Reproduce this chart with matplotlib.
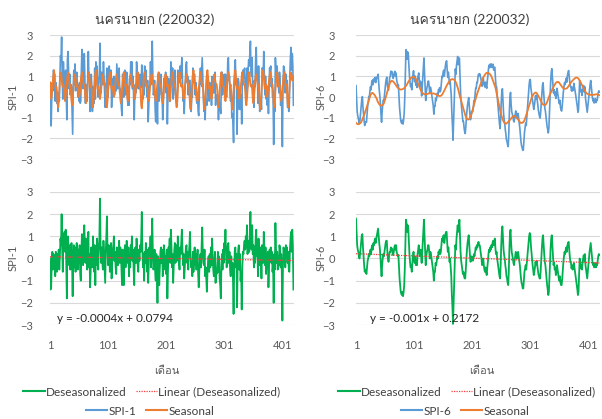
import numpy as np
import matplotlib
matplotlib.use("Agg")
import matplotlib.pyplot as plt
from matplotlib import font_manager
from matplotlib.lines import Line2D
from fontTools.ttLib import TTFont


def find_thai_font():
    # first installed font that has Thai glyphs
    for f in font_manager.fontManager.ttflist:
        try:
            cmap = TTFont(f.fname, fontNumber=0, lazy=True).getBestCmap()
        except Exception:
            continue
        if cmap and 0x0E19 in cmap and 0x0E14 in cmap:
            return f.name
    return "DejaVu Sans"


thai = find_thai_font()
plt.rcParams["font.family"] = ["Lato", thai, "DejaVu Sans"]

title_text = "นครนายก (220032)"
xlabel_text = "เดือน"
xticks = [1, 101, 201, 301, 401]
yticks = [-3, -2, -1, 0, 1, 2, 3]

# SPI-1 deseasonalized (green), one row per year
desea1_rows = [
    [0.0, -1.4, -1.3, -0.2, 0.3, -0.5, 0.2, -0.3, 0.1, -0.8, 0.3, -0.4],
    [-0.6, 0.2, -0.2, 0.4, -0.5, 0.1, 0.9, 0.6, 2.0, 0.4, -0.6, 1.1],
    [0.5, 1.2, 0.3, 1.3, -0.4, -1.8, 0.8, 1.0, 0.2, -0.3, 0.6, -0.5],
    [0.3, 0.7, -0.2, -1.7, 0.2, 0.6, -0.4, 0.5, -0.6, 0.3, 0.7, 0.1],
    [-0.5, 0.4, -0.2, 0.6, -0.7, -1.0, 0.3, 1.1, 0.4, -0.3, 0.8, 1.5],
    [0.6, -0.2, 0.9, 0.3, -0.5, 0.4, 1.2, -0.4, 0.2, -1.3, -0.6, 0.5],
    [0.2, -0.4, 1.0, 0.3, -0.6, 0.6, -1.2, 0.4, -0.3, 0.9, 0.2, -0.5],
    [0.4, 0.9, 2.7, 0.6, -0.2, 0.5, -0.1, -0.5, 0.8, 0.2, -0.4, -1.1],
    [0.3, 1.0, 1.9, 0.4, -0.3, 0.6, 0.5, -0.6, 0.2, 0.7, -0.9, -0.2],
    [0.4, 0.6, 1.0, -0.1, 0.3, -0.4, -0.7, 0.5, 0.1, -0.3, 0.2, 0.8],
    [-0.2, 0.5, 0.3, -0.5, -1.2, 0.4, -0.3, -1.2, 0.2, 0.6, -0.4, 0.1],
    [0.8, 0.3, -0.2, 0.5, -0.8, 0.2, -0.4, 0.6, 0.3, 1.0, -0.1, 0.4],
    [-0.5, -1.2, 0.3, 0.5, -0.2, 0.9, 0.2, -0.3, -0.6, 0.4, -0.1, 0.6],
    [0.3, 0.9, 2.1, 0.4, -0.4, 0.2, -1.0, 0.3, -0.2, 0.7, 0.1, -0.6],
    [0.4, -1.1, -0.3, 0.5, 0.2, 1.0, -0.4, 0.6, 1.8, 0.3, -0.5, -0.3],
    [0.4, -0.6, -1.0, 0.2, -0.5, -2.0, 0.1, -0.3, -1.2, -0.4, 0.3, 0.5],
    [-0.2, 0.4, -0.8, -0.3, 0.6, 0.2, -0.5, 0.1, -0.7, 0.4, -1.8, -0.6],
    [0.5, 0.3, 0.9, -0.2, 1.3, 0.6, -0.4, 0.2, -1.1, -0.3, 0.4, 0.7],
    [-0.2, 0.3, 0.6, -0.1, 1.0, 0.4, -0.2, -0.5, 0.5, 0.2, 0.8, 1.3],
    [0.4, -0.3, 0.2, -0.9, -0.4, 0.1, 0.5, 0.6, -0.2, 0.3, -0.5, 0.2],
    [0.6, 1.2, 0.1, -0.4, -0.2, -0.8, 0.3, -0.6, 0.1, 0.5, -0.3, 0.2],
    [-0.5, -0.2, 0.4, -0.7, -1.3, -0.6, -0.1, 0.2, -0.4, 0.6, 1.4, 0.3],
    [-0.2, -0.3, 0.4, -0.8, -0.4, -0.9, -1.5, -0.7, -0.2, 0.1, -0.6, 0.2],
    [-0.4, 0.5, -0.3, 0.9, 0.2, -0.5, -0.8, -0.2, 0.3, -1.1, -0.5, -0.7],
    [-0.3, 0.3, -0.6, 0.1, -0.9, -1.2, -1.8, -0.4, 0.2, -0.5, 0.4, -0.2],
    [0.7, 0.4, 1.3, 0.2, -0.4, -0.3, 0.6, 0.7, -0.2, 0.3, -0.5, -0.8],
    [0.1, -0.6, -0.2, -1.0, -2.5, -0.5, 0.3, 0.5, -0.4, 0.2, -2.2, -0.3],
    [0.4, 0.6, -0.5, 0.2, -1.0, -0.6, -2.3, -0.4, 0.3, 0.2, 0.6, 0.8],
    [0.4, 1.0, 0.5, 1.5, 0.2, 0.6, 0.8, 0.3, 1.2, 2.1, 0.7, 0.4],
    [1.5, 0.2, 0.6, -0.4, 0.5, -0.2, 0.9, 1.3, 0.1, 0.4, -0.8, 0.9],
    [0.2, -0.3, 0.5, 0.1, -0.9, 0.6, 0.3, -0.2, 1.2, 0.4, -0.3, 0.5],
    [-0.7, 0.2, -0.4, 0.3, -1.3, -0.5, 0.4, 0.1, 0.5, -0.2, 0.3, -0.6],
    [-0.3, -2.0, 0.2, -0.5, 1.6, 0.4, -0.2, 0.3, -0.5, 0.1, -0.3, 0.6],
    [0.4, -0.4, 0.2, -0.6, -2.8, -0.3, 0.5, 0.2, 0.3, -0.4, 0.6, 0.1],
    [0.5, -0.2, 0.3, -0.5, -0.6, 0.4, 0.9, 1.2, 0.3, 1.3, 0.6, -1.4],
]

# SPI-1 seasonal (orange)
seas1_rows = [
    [0.7, 0.1, -0.1, 0.1, 0.4, 0.8, 1.1, 1.3, 1.0, 0.6, 0.4, 0.5],
    [0.3, -0.3, -0.5, -0.2, 0.3, 0.8, 1.1, 1.2, 0.9, 0.6, 0.5, 0.6],
    [0.4, 0.0, -0.2, 0.0, 0.4, 0.7, 1.0, 1.2, 1.0, 0.7, 0.5, 0.6],
    [0.3, -0.2, -0.4, -0.1, 0.3, 0.7, 1.0, 1.1, 0.9, 0.6, 0.5, 0.6],
    [0.5, 0.2, 0.0, 0.1, 0.4, 0.8, 1.0, 1.2, 1.0, 0.7, 0.6, 0.6],
    [0.4, -0.1, -0.3, -0.1, 0.3, 0.7, 1.0, 1.2, 0.9, 0.6, 0.5, 0.6],
    [0.3, -0.3, -0.5, -0.2, 0.3, 0.8, 1.1, 1.3, 1.0, 0.6, 0.4, 0.5],
    [0.5, 0.1, -0.1, 0.1, 0.4, 0.7, 1.0, 1.1, 0.9, 0.7, 0.6, 0.6],
    [0.3, -0.3, -0.5, -0.2, 0.3, 0.7, 1.0, 1.2, 1.0, 0.6, 0.4, 0.5],
    [0.5, 0.2, 0.0, 0.2, 0.5, 0.8, 1.0, 1.1, 0.9, 0.7, 0.6, 0.6],
    [0.4, -0.1, -0.3, -0.1, 0.3, 0.7, 1.0, 1.2, 1.0, 0.7, 0.5, 0.6],
    [0.4, 0.0, -0.2, 0.0, 0.4, 0.7, 1.0, 1.1, 0.9, 0.7, 0.5, 0.6],
    [0.5, 0.1, -0.1, 0.1, 0.4, 0.8, 1.1, 1.2, 1.0, 0.6, 0.5, 0.5],
    [0.2, -0.4, -0.55, -0.2, 0.3, 0.8, 1.1, 1.2, 0.9, 0.6, 0.5, 0.6],
    [0.4, -0.1, -0.2, 0.0, 0.4, 0.7, 1.0, 1.1, 0.9, 0.7, 0.6, 0.6],
    [0.4, 0.0, -0.2, 0.0, 0.4, 0.7, 1.0, 1.2, 1.0, 0.7, 0.5, 0.6],
    [0.3, -0.2, -0.3, -0.1, 0.3, 0.7, 1.0, 1.1, 0.9, 0.6, 0.5, 0.6],
    [0.4, 0.0, -0.2, 0.0, 0.4, 0.8, 1.1, 1.2, 1.0, 0.7, 0.5, 0.6],
    [0.3, -0.3, -0.5, -0.2, 0.3, 0.7, 1.0, 1.2, 1.0, 0.7, 0.5, 0.6],
    [0.5, 0.1, -0.1, 0.1, 0.4, 0.7, 1.0, 1.1, 0.9, 0.7, 0.6, 0.6],
    [0.2, -0.4, -0.6, -0.3, 0.3, 0.8, 1.1, 1.3, 1.0, 0.6, 0.4, 0.5],
    [0.4, -0.1, -0.2, 0.0, 0.4, 0.7, 1.0, 1.2, 1.0, 0.7, 0.5, 0.6],
    [0.2, -0.4, -0.6, -0.3, 0.3, 0.8, 1.1, 1.3, 1.0, 0.6, 0.4, 0.5],
    [0.5, 0.1, -0.1, 0.1, 0.4, 0.7, 1.0, 1.1, 0.9, 0.7, 0.6, 0.6],
    [0.3, -0.3, -0.5, -0.2, 0.3, 0.7, 1.0, 1.2, 1.0, 0.6, 0.5, 0.5],
    [0.4, 0.0, -0.2, 0.0, 0.4, 0.8, 1.1, 1.2, 1.0, 0.7, 0.5, 0.6],
    [0.2, -0.4, -0.6, -0.3, 0.3, 0.8, 1.1, 1.3, 1.0, 0.6, 0.4, 0.5],
    [0.5, 0.1, -0.1, 0.1, 0.4, 0.7, 1.0, 1.2, 1.0, 0.7, 0.6, 0.6],
    [0.3, -0.2, -0.4, -0.1, 0.3, 0.7, 1.0, 1.2, 0.9, 0.6, 0.5, 0.6],
    [0.4, -0.1, -0.3, -0.1, 0.3, 0.7, 1.0, 1.1, 0.9, 0.7, 0.5, 0.6],
    [0.2, -0.4, -0.6, -0.3, 0.3, 0.8, 1.1, 1.3, 1.0, 0.6, 0.4, 0.5],
    [0.6, 0.2, 0.0, 0.2, 0.5, 0.8, 1.0, 1.2, 1.0, 0.7, 0.6, 0.6],
    [0.3, -0.3, -0.5, -0.2, 0.3, 0.7, 1.0, 1.2, 1.0, 0.7, 0.5, 0.6],
    [0.4, 0.0, -0.2, 0.0, 0.4, 0.7, 1.0, 1.2, 0.9, 0.6, 0.5, 0.6],
    [0.3, -0.3, -0.5, -0.2, 0.3, 0.8, 1.1, 1.2, 1.0, 0.8, 0.9, 1.0],
]

# SPI-6 deseasonalized (green)
desea6_rows = [
    [1.8, 1.2, 0.6, 0.4, 0.3, 0.1, 0.0, 0.2, 0.5, 0.8, 1.05, 1.1],
    [0.5, 0.1, -0.3, -0.6, -0.5, -0.6, -0.7, -0.4, -0.1, 0.0, 0.2, 0.1],
    [0.3, 0.4, 0.2, 0.5, 0.6, 0.4, 0.7, 0.6, 0.8, 0.9, 0.7, 0.9],
    [1.05, 1.2, 1.35, 1.0, 0.7, 0.45, 0.1, -0.4, -0.8, -0.3, 0.0, 0.2],
    [0.1, 0.3, 0.5, 0.7, 0.8, 0.8, 0.3, 0.0, -0.15, 0.1, 0.3, 0.3],
    [0.5, 0.45, 0.45, 0.2, 0.15, 0.3, 0.5, 0.6, 0.4, 0.6, 0.3, 0.2],
    [0.1, 0.15, -0.4, -0.9, -1.2, -1.5, -1.6, -1.65, -1.5, -1.7, -1.5, -1.2],
    [-0.45, 0.6, 1.75, 1.6, 1.2, 1.5, 1.35, 0.8, 0.2, -0.15, -0.4, -0.3],
    [-0.6, -0.2, 0.1, 0.3, 0.0, -0.2, 0.1, -0.3, -0.1, -0.3, 0.2, 0.4],
    [0.6, 0.3, 0.1, 0.4, 0.2, -0.2, 0.3, 0.8, 1.3, 1.75, 1.0, 0.4],
    [-0.3, 0.1, 0.3, 0.4, 0.6, 0.6, 0.3, 0.0, 0.3, 0.2, 0.0, -0.2],
    [-0.4, -0.6, -1.0, -0.6, -0.6, -0.2, -0.3, -0.1, 0.1, 0.0, 0.3, 0.2],
    [0.4, 0.2, 0.3, 0.6, 0.9, 0.8, 1.0, 1.05, 0.7, 0.9, 1.1, 1.2],
    [1.2, 0.7, 0.3, 0.5, 0.2, -0.15, 0.0, -0.4, -0.8, -1.65, -2.2, -2.95],
    [-2.0, -0.9, -0.2, 0.6, 0.4, 0.9, 1.2, 1.5, 1.2, 1.5, 1.75, 1.0],
    [0.3, -0.1, -0.3, -0.5, -0.7, -0.6, -0.8, -0.9, -0.9, -0.5, 0.0, 0.4],
    [0.7, 0.9, 1.05, 0.6, 0.2, -0.15, -0.1, 0.1, 0.0, -0.1, 0.0, 0.2],
    [0.1, 0.3, 0.5, 0.4, 0.6, 0.5, 0.7, 0.75, 0.6, 0.6, 0.4, 0.2],
    [0.0, -0.3, -0.2, 0.0, -0.3, -0.5, -0.6, -0.4, -0.6, -0.75, -0.4, -0.15],
    [0.2, 0.4, 0.3, 0.5, 0.4, 0.6, 0.5, 0.7, 0.8, 0.6, 0.8, 0.9],
    [0.45, 0.2, 0.3, 0.0, -0.2, -0.4, -0.6, -0.8, -0.9, -0.3, 0.6, 1.2],
    [1.45, 0.9, 0.4, 0.15, 0.0, -0.3, -0.5, -0.8, -0.9, -1.1, -1.2, -0.6],
    [0.4, 1.1, 1.3, 0.7, 0.3, 0.15, 0.0, -0.2, -0.3, -0.1, 0.1, 0.3],
    [0.2, 0.0, 0.2, 0.3, 0.1, -0.1, -0.3, -0.6, -0.9, -1.1, -1.2, -1.35],
    [-1.35, -1.0, -0.6, -0.45, -0.3, -0.5, -0.2, 0.1, 0.4, 0.7, 1.0, 1.15],
    [1.1, 0.6, 0.3, 0.0, -0.3, -0.5, -0.75, -0.6, -0.4, -0.15, -0.3, -0.1],
    [-0.3, -0.5, -0.7, -0.8, -0.9, -0.9, -0.5, 0.0, 0.5, 0.9, 1.05, 0.6],
    [0.2, -0.15, -0.3, -0.6, -0.9, -1.2, -1.4, -1.65, -1.5, -0.9, -0.2, 0.5],
    [0.9, 1.05, 0.6, 0.2, -0.3, -0.2, -0.5, -0.4, -0.75, -0.6, -0.3, -0.5],
    [-0.7, -0.9, -1.0, -0.8, -1.1, -1.2, -1.2, -0.9, -0.5, -0.15, 0.1, 0.3],
    [0.2, 0.4, 0.5, 0.3, 0.6, 0.7, 0.75, 0.4, 0.1, -0.15, -0.2, -0.45],
    [-0.3, -0.5, -0.45, -0.2, -0.4, -0.6, -0.8, -1.0, -1.2, -1.4, -1.65, -1.5],
    [-0.8, 0.0, -0.2, -0.45, -0.3, -0.5, -0.2, 0.0, 0.15, -0.1, 0.2, -0.3],
    [-0.5, -0.7, -0.9, -0.6, -0.3, 0.0, 0.3, 0.5, 0.7, 0.4, 0.1, -0.15],
    [-0.3, -0.2, -0.4, -0.3, -0.2, -0.4, -0.3, -0.3, -0.1, 0.1, 0.2, 0.15],
]

# SPI-6 seasonal (orange, smooth)
seas6_rows = [
    [-1.25, -1.28, -1.30, -1.31, -1.32, -1.31, -1.29, -1.27, -1.25, -1.21, -1.15, -1.08],
    [-1.00, -0.95, -0.87, -0.78, -0.70, -0.62, -0.53, -0.45, -0.36, -0.27, -0.18, -0.09],
    [0.00, 0.10, 0.15, 0.19, 0.20, 0.19, 0.16, 0.13, 0.10, 0.05, 0.00, -0.05],
    [-0.10, -0.20, -0.25, -0.30, -0.35, -0.38, -0.41, -0.42, -0.42, -0.40, -0.38, -0.35],
    [-0.30, -0.22, -0.13, -0.04, 0.06, 0.16, 0.27, 0.38, 0.48, 0.57, 0.65, 0.71],
    [0.75, 0.78, 0.78, 0.77, 0.75, 0.72, 0.68, 0.64, 0.60, 0.56, 0.52, 0.48],
    [0.45, 0.42, 0.40, 0.38, 0.37, 0.36, 0.36, 0.37, 0.38, 0.39, 0.41, 0.43],
    [0.46, 0.50, 0.54, 0.58, 0.63, 0.68, 0.73, 0.78, 0.82, 0.86, 0.90, 0.93],
    [0.95, 0.96, 0.97, 0.97, 0.96, 0.94, 0.91, 0.87, 0.82, 0.76, 0.70, 0.63],
    [0.56, 0.49, 0.42, 0.36, 0.30, 0.25, 0.21, 0.18, 0.16, 0.14, 0.13, 0.13],
    [0.13, 0.14, 0.14, 0.15, 0.16, 0.17, 0.17, 0.18, 0.18, 0.18, 0.17, 0.17],
    [0.17, 0.17, 0.17, 0.16, 0.15, 0.14, 0.12, 0.10, 0.08, 0.07, 0.06, 0.05],
    [0.05, 0.05, 0.06, 0.08, 0.11, 0.15, 0.20, 0.25, 0.31, 0.37, 0.43, 0.49],
    [0.55, 0.60, 0.65, 0.70, 0.74, 0.78, 0.81, 0.83, 0.85, 0.86, 0.86, 0.86],
    [0.85, 0.83, 0.80, 0.76, 0.70, 0.63, 0.55, 0.46, 0.36, 0.25, 0.13, 0.01],
    [-0.08, -0.18, -0.28, -0.38, -0.48, -0.58, -0.68, -0.78, -0.87, -0.95, -1.01, -1.06],
    [-1.09, -1.09, -1.08, -1.05, -1.01, -0.95, -0.88, -0.80, -0.70, -0.60, -0.49, -0.38],
    [-0.28, -0.18, -0.08, 0.02, 0.11, 0.20, 0.28, 0.36, 0.44, 0.52, 0.60, 0.68],
    [0.75, 0.82, 0.88, 0.94, 0.99, 1.04, 1.08, 1.12, 1.15, 1.17, 1.17, 1.17],
    [1.16, 1.14, 1.12, 1.09, 1.05, 1.00, 0.93, 0.86, 0.78, 0.70, 0.62, 0.54],
    [0.46, 0.33, 0.20, 0.06, -0.08, -0.22, -0.36, -0.50, -0.63, -0.75, -0.86, -0.96],
    [-1.05, -1.12, -1.18, -1.23, -1.27, -1.29, -1.29, -1.28, -1.26, -1.23, -1.20, -1.17],
    [-1.14, -1.11, -1.08, -1.04, -1.00, -0.97, -0.94, -0.92, -0.91, -0.92, -0.94, -0.97],
    [-1.00, -1.03, -1.06, -1.09, -1.13, -1.17, -1.21, -1.24, -1.26, -1.26, -1.25, -1.23],
    [-1.22, -1.18, -1.12, -1.05, -0.97, -0.88, -0.79, -0.70, -0.60, -0.50, -0.42, -0.33],
    [-0.25, -0.15, -0.07, 0.00, 0.06, 0.11, 0.15, 0.18, 0.20, 0.22, 0.21, 0.19],
    [0.15, 0.10, 0.05, 0.00, -0.06, -0.12, -0.18, -0.24, -0.29, -0.33, -0.36, -0.38],
    [-0.39, -0.39, -0.38, -0.35, -0.30, -0.24, -0.17, -0.09, -0.01, 0.07, 0.14, 0.20],
    [0.26, 0.32, 0.38, 0.44, 0.50, 0.55, 0.60, 0.64, 0.68, 0.71, 0.72, 0.73],
    [0.73, 0.71, 0.68, 0.64, 0.60, 0.56, 0.52, 0.48, 0.45, 0.42, 0.41, 0.40],
    [0.40, 0.40, 0.41, 0.42, 0.45, 0.49, 0.53, 0.58, 0.62, 0.66, 0.70, 0.74],
    [0.77, 0.80, 0.83, 0.86, 0.89, 0.91, 0.93, 0.94, 0.94, 0.93, 0.91, 0.88],
    [0.84, 0.80, 0.75, 0.70, 0.64, 0.58, 0.52, 0.46, 0.40, 0.34, 0.29, 0.25],
    [0.21, 0.18, 0.16, 0.14, 0.13, 0.12, 0.11, 0.11, 0.10, 0.10, 0.10, 0.10],
    [0.10, 0.11, 0.11, 0.12, 0.12, 0.13, 0.13, 0.13, 0.12, 0.11, 0.10, 0.09],
]

# trendline coefficients shown on the chart
trend1 = (-0.0004, 0.0794)
trend6 = (-0.001, 0.2172)
eq1 = "y = -0.0004x + 0.0794"
eq6 = "y = -0.001x + 0.2172"

desea1 = np.ravel(desea1_rows)
seas1 = np.ravel(seas1_rows)
spi1 = desea1 + seas1
desea6 = np.ravel(desea6_rows)
seas6 = np.ravel(seas6_rows)
spi6 = desea6 + seas6
months = np.arange(1, len(spi1) + 1)

BLUE = "#5B9BD5"
ORANGE = "#ED7D31"
GREEN = "#00B050"
RED = "#FF3B3B"
GRID = "#D9D9D9"
TXT = "#595959"
DARK = "#404040"

W, H = 602, 419
fig = plt.figure(figsize=(W / 100, H / 100), dpi=100)


def px_axes(x0, x1, ytop, ybot):
    return fig.add_axes([x0 / W, 1 - ybot / H, (x1 - x0) / W, (ybot - ytop) / H])


def style(ax, show_x, ypad):
    ax.set_xlim(1, 421)
    ax.set_ylim(-3, 3)
    ax.set_yticks(yticks)
    ax.grid(axis="y", color=GRID, lw=0.8)
    ax.set_axisbelow(True)
    for s in ax.spines.values():
        s.set_visible(False)
    ax.tick_params(axis="y", length=0, pad=ypad, labelsize=8, labelcolor=TXT)
    if show_x:
        ax.set_xticks(xticks)
        ax.tick_params(axis="x", length=0, pad=11, labelsize=8, labelcolor=TXT)
    else:
        ax.set_xticks([])


panels = [
    (50, 294, spi1, seas1, desea1, trend1, eq1, "SPI-1", 13, 150, 12, 57),
    (356, 600, spi6, seas6, desea6, trend6, eq6, "SPI-6", 321, 465, 15, 370),
]

for (x0, x1, spi, seas, desea, trend, eq, lab, ylab_x, cx, ypad, eqx) in panels:
    top = px_axes(x0, x1, 35, 159)
    style(top, False, ypad)
    top.plot(months, spi, color=BLUE, lw=1.2)
    top.plot(months, seas, color=ORANGE, lw=1.3)
    fig.text(ylab_x / W, 1 - 97 / H, lab, rotation=90, ha="center", va="center",
             fontsize=8, color=TXT)
    fig.text(cx / W + 5 / W, 1 - 20 / H, title_text, ha="center", va="center",
             fontsize=10, color=DARK)

    bot = px_axes(x0, x1, 192, 325)
    style(bot, True, ypad)
    bot.plot(months, desea, color=GREEN, lw=1.3)
    bot.plot(months, trend[0] * months + trend[1], color=RED, lw=0.9, ls=(0, (1, 1)))
    bot.text(eqx / W, 1 - 318 / H, eq, transform=fig.transFigure, ha="left",
             va="center", fontsize=8.5, color="#262626")
    fig.text(ylab_x / W, 1 - 258 / H, lab, rotation=90, ha="center", va="center",
             fontsize=8, color=TXT)
    fig.text((cx + 17) / W, 1 - 370 / H, xlabel_text, ha="center", va="center",
             fontsize=8, color=TXT)

    row1 = [Line2D([], [], color=GREEN, lw=1.5),
            Line2D([], [], color=RED, lw=0.9, ls=(0, (1, 1)))]
    fig.legend(row1, ["Deseasonalized", "Linear (Deseasonalized)"], ncol=2,
               loc="center", bbox_to_anchor=((cx + 2) / W, 1 - 392 / H),
               frameon=False, fontsize=8.5, handlelength=1.8,
               handletextpad=0.1, columnspacing=0.8, labelcolor=DARK)
    row2 = [Line2D([], [], color=BLUE, lw=1.5), Line2D([], [], color=ORANGE, lw=1.5)]
    fig.legend(row2, [lab, "Seasonal"], ncol=2, loc="center",
               bbox_to_anchor=(cx / W, 1 - 411 / H), frameon=False,
               fontsize=8.5, handlelength=1.8, handletextpad=0.1,
               columnspacing=0.8, labelcolor=DARK)

fig.savefig("out.png", dpi=100)
